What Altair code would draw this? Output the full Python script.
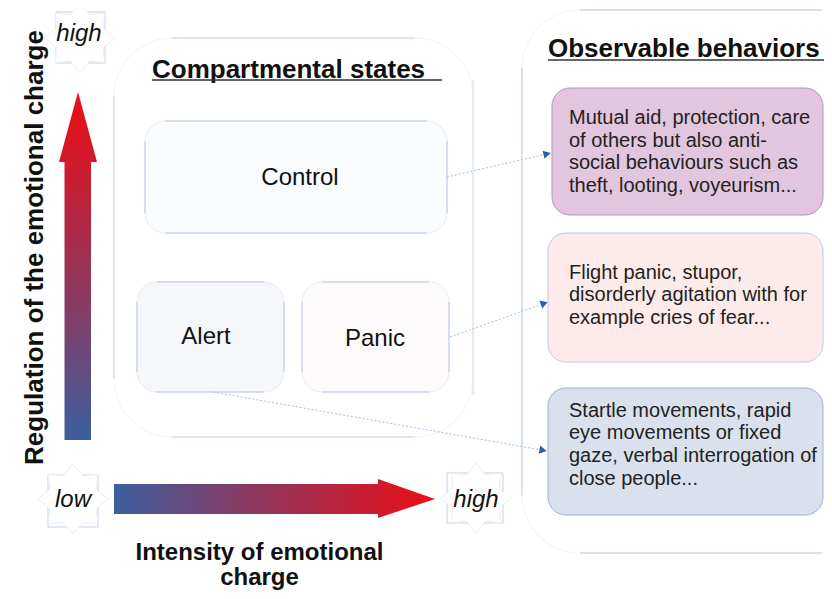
import math
import altair as alt
import pandas as pd

# ---------------- content ----------------
y_title = "Regulation of the emotional charge"
x_title_lines = ["Intensity of emotional", "charge"]
left_title = "Compartmental states"
right_title = "Observable behaviors"
states = ["Control", "Alert", "Panic"]
behaviors = [
    ["Mutual aid, protection, care", "of others but also anti-",
     "social behaviours such as", "theft, looting, voyeurism..."],
    ["Flight panic, stupor,", "disorderly agitation with for",
     "example cries of fear..."],
    ["Startle movements, rapid", "eye movements or fixed",
     "gaze, verbal interrogation of", "close people..."],
]
scale_words = ["high", "low", "high"]

# ---------------- layout (page pixel units) ----------------
XS = alt.Scale(domain=[8, 824], nice=False, zero=False)
YS = alt.Scale(domain=[8, 591], nice=False, zero=False, reverse=True)
FONT = "Liberation Sans"

state_boxes = [(145, 121, 447, 233, "#fbfcfe"), (137, 282, 284, 392, "#f5f7fb"),
               (302, 282, 449, 392, "#fefbfc")]
state_text = [(300, 185), (206, 344), (375, 346)]
beh_boxes = [(552, 88, 823, 215, "#e1c6dd", "#a79cca"),
             (548, 233, 823, 362, "#fdebeb", "#bccae6"),
             (548, 388, 823, 515, "#dbe1ec", "#9fb1d4")]
beh_first_base = [124, 278.5, 416.7]
beh_step = 22.7
beh_x = 569
connectors = [((447, 177), (551, 153)), ((450, 337), (548, 302)), ((213, 392), (547, 451))]
stars = [(80, 38, 56, 12, 105, 63, 79, 40.5), (73, 499, 48, 475, 98, 527, 73, 506.5),
         (476, 498, 447, 473, 503, 523, 476, 506.5)]

BLUE = "#3b5fa0"
RED_MID = "#d01a2c"
RED = "#ec0e17"


def X(f):
    return alt.X(f, type="quantitative", scale=XS, axis=None)


def Y(f):
    return alt.Y(f, type="quantitative", scale=YS, axis=None)


def rect_layer(rows, **mark):
    df = pd.DataFrame(rows, columns=["x0", "y0", "x1", "y1"])
    return alt.Chart(df).mark_rect(**mark).encode(x=X("x0"), x2="x1", y=Y("y0"), y2="y1")


def rule_layer(rows, **mark):
    df = pd.DataFrame(rows, columns=["x0", "y0", "x1", "y1"])
    return alt.Chart(df).mark_rule(**mark).encode(x=X("x0"), x2="x1", y=Y("y0"), y2="y1")


def text_layer(rows, **mark):
    df = pd.DataFrame(rows, columns=["x", "y", "t"])
    return alt.Chart(df).mark_text(**mark).encode(x=X("x"), y=Y("y"), text="t:N")


def soft_box(x0, y0, x1, y1, r, fill, corner, edge, sides="tlbr", edge_r=None):
    layers = [rect_layer([(x0, y0, x1, y1)], cornerRadius=r, fill=fill,
                         stroke=corner, strokeWidth=1)]
    er = r if edge_r is None else edge_r
    segs = []
    if "t" in sides:
        segs.append((x0 + er, y0, x1 - er, y0))
    if "b" in sides:
        segs.append((x0 + er, y1, x1 - er, y1))
    if "l" in sides:
        segs.append((x0, y0 + er, x0, y1 - er))
    if "r" in sides:
        segs.append((x1, y0 + er, x1, y1 - er))
    if segs:
        layers.append(rule_layer(segs, color=edge, strokeWidth=1))
    return layers


layers = []
# big containers
layers += soft_box(114, 38, 473, 437, 58, "#ffffff", "#f1f3f7", "#c3d1ea", sides="tlb")
layers += [rule_layer([(473, 80, 473, 395)], color="#dfe6f1", strokeWidth=1.5)]
layers += soft_box(522, 10, 880, 553, 58, "#ffffff", "#f1f3f7", "#b9c9e6", sides="tlb")

# state boxes
for (x0, y0, x1, y1, f) in state_boxes:
    layers += soft_box(x0, y0, x1, y1, 20, f, "#e8ecf3", "#b9c8e4")

# behavior boxes
for (x0, y0, x1, y1, f, s) in beh_boxes:
    layers.append(rect_layer([(x0, y0, x1, y1)], cornerRadius=18, fill=f,
                             stroke=s, strokeWidth=1))

# connectors
conn_rows = [(a[0], a[1], b[0], b[1]) for a, b in connectors]
layers.append(rule_layer(conn_rows, color="#a9bde0", strokeWidth=1, strokeDash=[2, 2]))
head_rows = []
for (ax, ay), (bx, by) in connectors:
    dx, dy = bx - ax, by - ay
    L = math.hypot(dx, dy)
    ang = math.degrees(math.atan2(dy, dx)) % 360
    head_rows.append({"x": bx - 4 * dx / L, "y": by - 4 * dy / L, "a": ang})
layers.append(alt.Chart(pd.DataFrame(head_rows)).mark_point(
    shape="triangle-right", filled=True, color="#2f5da6", size=70, opacity=1
).encode(x=X("x"), y=Y("y"), angle=alt.Angle("a:Q", scale=None)))

# gradient arrows
h_grad = alt.Gradient(gradient="linear", x1=0, x2=1, y1=0, y2=0,
                      stops=[alt.GradientStop(color=BLUE, offset=0),
                             alt.GradientStop(color="#8a3a62", offset=0.5),
                             alt.GradientStop(color=RED_MID, offset=1)])
v_grad = alt.Gradient(gradient="linear", x1=0, x2=0, y1=1, y2=0,
                      stops=[alt.GradientStop(color=BLUE, offset=0),
                             alt.GradientStop(color="#8a3a62", offset=0.5),
                             alt.GradientStop(color=RED_MID, offset=1)])
layers.append(rect_layer([(114, 484, 379, 514)], fill=h_grad))
layers.append(rect_layer([(64.5, 161, 91, 440)], fill=v_grad))
hh = pd.DataFrame({"x": [378, 435], "y": [479, 499], "y2": [518, 499]})
layers.append(alt.Chart(hh).mark_area(
    orient="vertical", line=False,
    color=alt.Gradient(gradient="linear", x1=0, x2=1, y1=0, y2=0,
                       stops=[alt.GradientStop(color=RED_MID, offset=0),
                              alt.GradientStop(color=RED, offset=1)])
).encode(x=X("x"), y=Y("y"), y2="y2"))
vh = pd.DataFrame({"y": [162, 92], "x": [59, 78], "x2": [97, 78]})
layers.append(alt.Chart(vh).mark_area(
    orient="horizontal", line=False,
    color=alt.Gradient(gradient="linear", x1=0, x2=0, y1=1, y2=0,
                       stops=[alt.GradientStop(color=RED_MID, offset=0),
                              alt.GradientStop(color=RED, offset=1)])
).encode(y=Y("y"), x=X("x"), x2="x2"))

# stars for low / high
pts = []
for k in range(16):
    rr = 1.0 if k % 2 == 0 else 0.72
    th = math.pi / 2 + k * math.pi / 8
    pts.append((rr * math.cos(th), -rr * math.sin(th)))
star_path = "M" + " L".join(f"{px:.3f},{py:.3f}" for px, py in pts) + " Z"
layers.append(rect_layer([(s[2], s[3], s[4], s[5]) for s in stars],
                         fill="#ffffff", stroke="#c4d1e8", strokeWidth=1))
layers.append(alt.Chart(pd.DataFrame({"x": [s[0] for s in stars], "y": [s[1] for s in stars]}))
              .mark_point(shape=star_path, filled=True, fill="#ffffff", stroke="#eceef2",
                          strokeWidth=1, size=4900, opacity=1)
              .encode(x=X("x"), y=Y("y")))
layers.append(text_layer([(s[6], s[7], w) for s, w in zip(stars, scale_words)],
                         font=FONT, fontSize=24, fontStyle="italic", color="#111111",
                         align="center", baseline="alphabetic"))

# titles
layers.append(text_layer([(152, 78, left_title)],
                         font=FONT, fontSize=26, fontWeight="bold", color="#111111",
                         align="left", baseline="alphabetic"))
layers.append(text_layer([(548, 57, right_title)],
                         font=FONT, fontSize=26, fontWeight="bold", color="#111111",
                         align="left", baseline="alphabetic"))
layers.append(rule_layer([(152, 80, 442, 80), (548, 60, 832, 60)], color="#333333", strokeWidth=1.5))
layers.append(text_layer([(259.5, 560, x_title_lines[0]), (259.5, 585, x_title_lines[1])],
                         font=FONT, fontSize=24, fontWeight="bold", color="#111111",
                         align="center", baseline="alphabetic"))
layers.append(text_layer([(43, 247.5, y_title)], font=FONT, fontSize=26, fontWeight="bold",
                         color="#111111", align="center", baseline="alphabetic", angle=270))

# state labels
layers.append(text_layer([(p[0], p[1], s) for p, s in zip(state_text, states)],
                         font=FONT, fontSize=24, color="#111111", align="center",
                         baseline="alphabetic"))

# behavior texts
rows = []
for b, lines in enumerate(behaviors):
    for i, line in enumerate(lines):
        rows.append((beh_x, beh_first_base[b] + i * beh_step, line))
layers.append(text_layer(rows, font=FONT, fontSize=20, color="#222222",
                         align="left", baseline="alphabetic"))

chart = alt.layer(*layers).properties(
    width=816, height=583,
    autosize=alt.AutoSizeParams(type="none"), padding=0,
    background="#ffffff",
).configure_view(stroke=None)

chart.save("out.html", embed_options={"renderer": "svg", "actions": False})
